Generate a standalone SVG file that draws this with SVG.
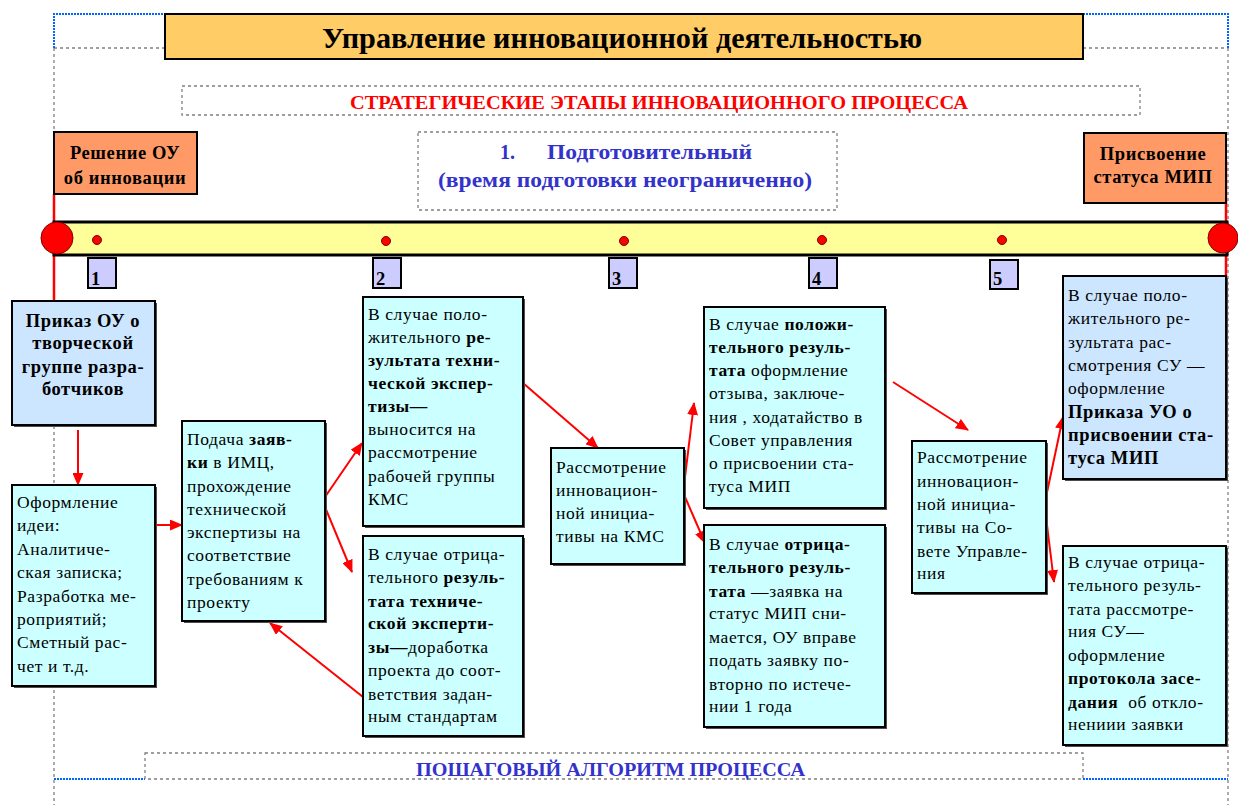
<svg xmlns="http://www.w3.org/2000/svg" width="1238" height="805" viewBox="0 0 1238 805" font-family="Liberation Serif, serif">
<style>
text{font-family:"Liberation Serif",serif;font-size:17.5px;letter-spacing:0.6px;fill:#000}
.b{font-weight:bold}
.box{stroke:#000;stroke-width:2}
.cy{fill:#CCFFFF}
.lb{fill:#CCE6FF}
.or{fill:#FF9966}
.sh{fill:#4d4d4d}
.num{fill:#CCCCFF;stroke:#000;stroke-width:2}
.dash{fill:none;stroke:#808080;stroke-width:1.3;stroke-dasharray:3,3}
.blue{fill:none;stroke:#0066FF;stroke-width:2;stroke-dasharray:2,1}
.arr{stroke:#FF0000;stroke-width:2;fill:none;marker-end:url(#ah)}
.rl{stroke:#FF0000;stroke-width:2.5}
.dot{fill:#FF0000;stroke:#800000;stroke-width:1}
.hd{font-size:18.5px}
.big{letter-spacing:0}
</style>
<defs>
<marker id="ah" markerUnits="userSpaceOnUse" markerWidth="13" markerHeight="11" refX="12" refY="5.5" orient="auto">
<path d="M0,0 L13,5.5 L0,11 z" fill="#FF0000"/>
</marker>
</defs>
<rect width="1238" height="805" fill="#fff"/>

<g id="frame">
<path class="dash" d="M54,48 V805 M1228,48 V805 M54,48 H165 M1083,48 H1228"/>
<path class="blue" d="M54,48 V14 H165 M1083,14 H1228 V48 M54,779 H145 M1083,779 H1228"/>
<rect class="dash" x="182" y="86" width="958" height="29"/>
<rect class="dash" x="418" y="132" width="419" height="78"/>
<rect class="dash" x="145" y="753" width="938" height="26"/>
</g>

<g id="title">
<rect x="165" y="14" width="918" height="45" fill="#FFCC66" stroke="#000" stroke-width="2"/>
<text class="b big" x="622" y="48" style="font-size:29px" text-anchor="middle" textLength="600" lengthAdjust="spacingAndGlyphs">Управление инновационной деятельностью</text>
</g>

<g id="strategic">
<text class="b big" x="659" y="109" style="font-size:19px;fill:#FF0000" text-anchor="middle" textLength="618" lengthAdjust="spacingAndGlyphs">СТРАТЕГИЧЕСКИЕ ЭТАПЫ ИННОВАЦИОННОГО ПРОЦЕССА</text>
</g>

<g id="stage1">
<text class="b big" x="500" y="159" style="font-size:20px;fill:#3333CC">1.</text>
<text class="b big" x="547" y="159" style="font-size:20px;fill:#3333CC" textLength="205" lengthAdjust="spacingAndGlyphs">Подготовительный</text>
<text class="b big" x="438" y="187" style="font-size:20px;fill:#3333CC" textLength="374" lengthAdjust="spacingAndGlyphs">(время подготовки неограниченно)</text>
</g>

<g id="algorithm">
<text class="b big" x="416" y="776" style="font-size:19px;fill:#3333CC" textLength="389" lengthAdjust="spacingAndGlyphs">ПОШАГОВЫЙ АЛГОРИТМ ПРОЦЕССА</text>
</g>

<g id="connectors">
<line class="rl" x1="54" y1="194" x2="54" y2="301"/>
<line class="rl" x1="1226" y1="160" x2="1226" y2="301"/>
<line class="arr" x1="78" y1="430" x2="78" y2="485"/>
<line class="arr" x1="155" y1="525" x2="182" y2="525"/>
<line class="arr" x1="325" y1="497" x2="362" y2="443"/>
<line class="arr" x1="325" y1="507" x2="352" y2="572"/>
<line class="arr" x1="363" y1="697" x2="270" y2="623"/>
<line class="arr" x1="523" y1="383" x2="598" y2="448"/>
<line class="arr" x1="685" y1="477" x2="694" y2="403"/>
<line class="arr" x1="685" y1="497" x2="705" y2="543"/>
<line class="arr" x1="893" y1="382" x2="968" y2="430"/>
<line class="arr" x1="1046" y1="497" x2="1063" y2="417"/>
<line class="arr" x1="1046" y1="517" x2="1054" y2="582"/>
</g>

<g id="timeline">
<rect x="54" y="222" width="1173" height="33" fill="#FFFF99" stroke="#000" stroke-width="3"/>
<circle class="dot" cx="57" cy="238" r="16" stroke-width="1.5"/>
<circle class="dot" cx="1223" cy="238" r="15" stroke-width="1.5"/>
<circle class="dot" cx="97" cy="240" r="4.5"/>
<circle class="dot" cx="386" cy="241" r="4.5"/>
<circle class="dot" cx="624" cy="241" r="4.5"/>
<circle class="dot" cx="822" cy="240" r="4.5"/>
<circle class="dot" cx="1002" cy="240" r="4.5"/>
</g>

<g id="n1"><rect class="num" x="88" y="258" width="28" height="30"/><text class="b hd" x="91" y="285">1</text></g>
<g id="n2"><rect class="num" x="373" y="258" width="28" height="30"/><text class="b hd" x="376" y="285">2</text></g>
<g id="n3"><rect class="num" x="609" y="258" width="28" height="30"/><text class="b hd" x="612" y="285">3</text></g>
<g id="n4"><rect class="num" x="809" y="258" width="28" height="30"/><text class="b hd" x="812" y="285">4</text></g>
<g id="n5"><rect class="num" x="990" y="260" width="28" height="29"/><text class="b hd" x="993" y="285">5</text></g>

<g id="decision">
<rect class="or box" x="54" y="132" width="143" height="62"/>
<text class="b hd" text-anchor="middle"><tspan x="125" y="159">Решение ОУ</tspan><tspan x="125" y="184">об инновации</tspan></text>
</g>

<g id="status">
<rect class="or box" x="1084" y="133" width="142" height="70"/>
<text class="b hd" text-anchor="middle"><tspan x="1153" y="160">Присвоение</tspan><tspan x="1153" y="183">статуса МИП</tspan></text>
</g>

<g id="order">
<rect class="sh" x="14" y="303" width="143" height="124"/>
<rect class="lb box" x="12" y="301" width="143" height="124"/>
<text class="b hd" text-anchor="middle"><tspan x="83" y="327">Приказ ОУ о</tspan><tspan x="83" y="349">творческой</tspan><tspan x="83" y="373">группе разра-</tspan><tspan x="83" y="395">ботчиков</tspan></text>
</g>

<g id="idea">
<rect class="sh" x="14" y="487" width="143" height="201"/>
<rect class="cy box" x="12" y="485" width="143" height="201"/>
<text><tspan x="17" y="508">Оформление</tspan><tspan x="17" y="531">идеи:</tspan><tspan x="17" y="555">Аналитиче-</tspan><tspan x="17" y="578">ская записка;</tspan><tspan x="17" y="602">Разработка ме-</tspan><tspan x="17" y="625">роприятий;</tspan><tspan x="17" y="648">Сметный рас-</tspan><tspan x="17" y="672">чет и т.д.</tspan></text>
</g>

<g id="apply">
<rect class="sh" x="184" y="423" width="143" height="200"/>
<rect class="cy box" x="182" y="421" width="143" height="200"/>
<text><tspan x="187" y="445">Подача </tspan><tspan class="b">заяв-</tspan><tspan x="187" y="468" class="b">ки</tspan><tspan> в ИМЦ,</tspan><tspan x="187" y="492">прохождение</tspan><tspan x="187" y="515">технической</tspan><tspan x="187" y="538">экспертизы на</tspan><tspan x="187" y="561">соответствие</tspan><tspan x="187" y="585">требованиям к</tspan><tspan x="187" y="608">проекту</tspan></text>
</g>

<g id="techpos">
<rect class="sh" x="365" y="299" width="160" height="229"/>
<rect class="cy box" x="363" y="297" width="160" height="229"/>
<text><tspan x="368" y="320">В случае поло-</tspan><tspan x="368" y="343">жительного </tspan><tspan class="b">ре-</tspan><tspan x="368" y="366" class="b">зультата техни-</tspan><tspan x="368" y="389" class="b">ческой экспер-</tspan><tspan x="368" y="412" class="b">тизы—</tspan><tspan x="368" y="435">выносится на</tspan><tspan x="368" y="458">рассмотрение</tspan><tspan x="368" y="482">рабочей группы</tspan><tspan x="368" y="505">КМС</tspan></text>
</g>

<g id="techneg">
<rect class="sh" x="365" y="538" width="160" height="200"/>
<rect class="cy box" x="363" y="536" width="160" height="200"/>
<text><tspan x="368" y="560">В случае отрица-</tspan><tspan x="368" y="583">тельного </tspan><tspan class="b">резуль-</tspan><tspan x="368" y="607" class="b">тата техниче-</tspan><tspan x="368" y="629" class="b">ской эксперти-</tspan><tspan x="368" y="653" class="b">зы—</tspan><tspan>доработка</tspan><tspan x="368" y="676">проекта до соот-</tspan><tspan x="368" y="700">ветствия задан-</tspan><tspan x="368" y="722">ным стандартам</tspan></text>
</g>

<g id="kms">
<rect class="sh" x="553" y="450" width="133" height="116"/>
<rect class="cy box" x="551" y="448" width="133" height="116"/>
<text><tspan x="556" y="473">Рассмотрение</tspan><tspan x="556" y="496">инновацион-</tspan><tspan x="556" y="519">ной инициа-</tspan><tspan x="556" y="542">тивы на КМС</tspan></text>
</g>

<g id="kmspos">
<rect class="sh" x="706" y="309" width="181" height="201"/>
<rect class="cy box" x="704" y="307" width="181" height="201"/>
<text><tspan x="709" y="330">В случае </tspan><tspan class="b">положи-</tspan><tspan x="709" y="353" class="b">тельного резуль-</tspan><tspan x="709" y="376" class="b">тата</tspan><tspan> оформление</tspan><tspan x="709" y="399">отзыва, заключе-</tspan><tspan x="709" y="423">ния , ходатайство в</tspan><tspan x="709" y="446">Совет управления</tspan><tspan x="709" y="469">о присвоении ста-</tspan><tspan x="709" y="492">туса МИП</tspan></text>
</g>

<g id="kmsneg">
<rect class="sh" x="706" y="527" width="181" height="202"/>
<rect class="cy box" x="704" y="525" width="181" height="202"/>
<text><tspan x="709" y="550">В случае </tspan><tspan class="b">отрица-</tspan><tspan x="709" y="573" class="b">тельного резуль-</tspan><tspan x="709" y="597" class="b">тата</tspan><tspan> —заявка на</tspan><tspan x="709" y="619">статус МИП сни-</tspan><tspan x="709" y="643">мается, ОУ вправе</tspan><tspan x="709" y="666">подать заявку по-</tspan><tspan x="709" y="690">вторно по истече-</tspan><tspan x="709" y="712">нии 1 года</tspan></text>
</g>

<g id="su">
<rect class="sh" x="914" y="443" width="134" height="152"/>
<rect class="cy box" x="912" y="441" width="134" height="152"/>
<text><tspan x="917" y="463">Рассмотрение</tspan><tspan x="917" y="487">инновацион-</tspan><tspan x="917" y="510">ной инициа-</tspan><tspan x="917" y="533">тивы на Со-</tspan><tspan x="917" y="557">вете Управле-</tspan><tspan x="917" y="579">ния</tspan></text>
</g>

<g id="supos">
<rect class="sh" x="1065" y="278" width="163" height="203"/>
<rect class="lb box" x="1063" y="276" width="163" height="203"/>
<text><tspan x="1068" y="301">В случае поло-</tspan><tspan x="1068" y="324">жительного ре-</tspan><tspan x="1068" y="348">зультата рас-</tspan><tspan x="1068" y="371">смотрения СУ —</tspan><tspan x="1068" y="394">оформление</tspan><tspan x="1068" y="418" class="b hd">Приказа УО о</tspan><tspan x="1068" y="441" class="b hd">присвоении ста-</tspan><tspan x="1068" y="464" class="b hd">туса МИП</tspan></text>
</g>

<g id="suneg">
<rect class="sh" x="1065" y="548" width="163" height="199"/>
<rect class="cy box" x="1063" y="546" width="163" height="199"/>
<text><tspan x="1068" y="568">В случае отрица-</tspan><tspan x="1068" y="591">тельного резуль-</tspan><tspan x="1068" y="615">тата рассмотре-</tspan><tspan x="1068" y="637">ния СУ—</tspan><tspan x="1068" y="661">оформление</tspan><tspan x="1068" y="684" class="b">протокола засе-</tspan><tspan x="1068" y="708" class="b">дания</tspan><tspan xml:space="preserve">  об откло-</tspan><tspan x="1068" y="730">нениии заявки</tspan></text>
</g>
</svg>
